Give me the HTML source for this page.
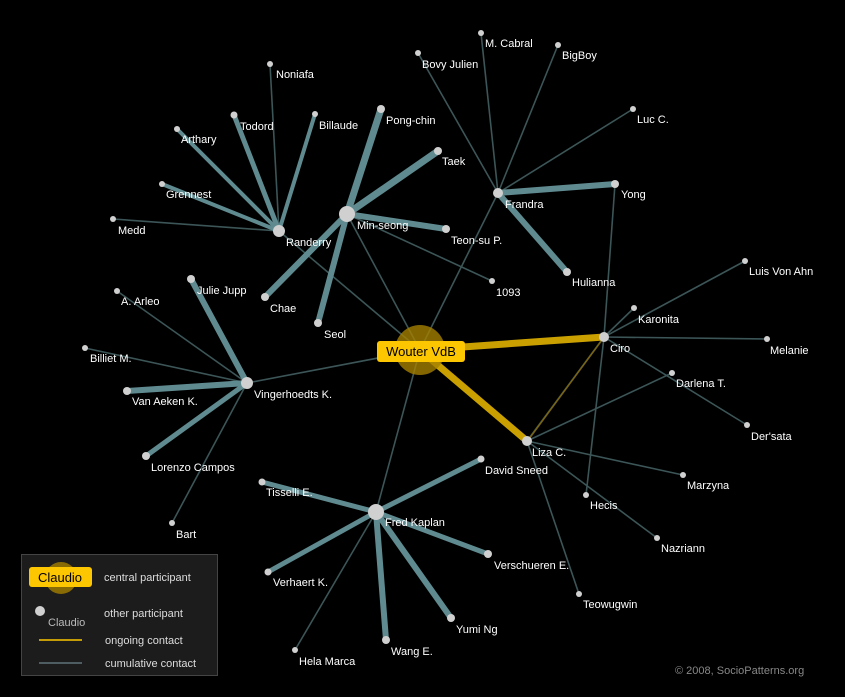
<!DOCTYPE html>
<html><head><meta charset="utf-8"><style>
html,body{margin:0;padding:0;background:#000;width:845px;height:697px;overflow:hidden}
svg{display:block}
text{font-family:"Liberation Sans",sans-serif;font-size:11px;fill:#fff}
.t{stroke:#3c5557;stroke-width:1.6;fill:none}
.k{stroke:#5f8b90;fill:none}
.n{fill:#d0d0d0}
</style></head><body>
<svg width="845" height="697" viewBox="0 0 845 697">
<rect width="845" height="697" fill="#000"/>
<!-- thin edges -->
<g class="t">
<line x1="420" y1="350" x2="279" y2="231"/>
<line x1="420" y1="350" x2="347" y2="214"/>
<line x1="420" y1="350" x2="498" y2="193"/>
<line x1="420" y1="350" x2="247" y2="383"/>
<line x1="420" y1="350" x2="376" y2="512"/>
<line x1="279" y1="231" x2="270" y2="64"/>
<line x1="279" y1="231" x2="113" y2="219"/>
<line x1="347" y1="214" x2="492" y2="281"/>
<line x1="498" y1="193" x2="481" y2="33"/>
<line x1="498" y1="193" x2="558" y2="45"/>
<line x1="498" y1="193" x2="418" y2="53"/>
<line x1="498" y1="193" x2="633" y2="109"/>
<line x1="604" y1="337" x2="615" y2="184"/>
<line x1="604" y1="337" x2="745" y2="261"/>
<line x1="604" y1="337" x2="634" y2="308"/>
<line x1="604" y1="337" x2="767" y2="339"/>
<line x1="604" y1="337" x2="747" y2="425"/>
<line x1="604" y1="337" x2="586" y2="495"/>
<line x1="604" y1="337" x2="527" y2="441"/>
<line x1="527" y1="441" x2="672" y2="373"/>
<line x1="527" y1="441" x2="683" y2="475"/>
<line x1="527" y1="441" x2="657" y2="538"/>
<line x1="527" y1="441" x2="579" y2="594"/>
<line x1="247" y1="383" x2="117" y2="291"/>
<line x1="247" y1="383" x2="85" y2="348"/>
<line x1="247" y1="383" x2="172" y2="523"/>
<line x1="376" y1="512" x2="295" y2="650"/>
</g>
<line x1="602" y1="340" x2="529" y2="439" stroke="#7a6410" stroke-width="1.5"/>
<!-- thick edges -->
<g class="k">
<line x1="279" y1="231" x2="234" y2="115" stroke-width="5"/>
<line x1="279" y1="231" x2="315" y2="114" stroke-width="4"/>
<line x1="279" y1="231" x2="177" y2="129" stroke-width="4"/>
<line x1="279" y1="231" x2="162" y2="184" stroke-width="4"/>
<line x1="347" y1="214" x2="381" y2="109" stroke-width="7"/>
<line x1="347" y1="214" x2="438" y2="151" stroke-width="7"/>
<line x1="347" y1="214" x2="446" y2="229" stroke-width="6"/>
<line x1="347" y1="214" x2="265" y2="297" stroke-width="6"/>
<line x1="347" y1="214" x2="318" y2="323" stroke-width="6"/>
<line x1="498" y1="193" x2="615" y2="184" stroke-width="6"/>
<line x1="498" y1="193" x2="567" y2="272" stroke-width="6"/>
<line x1="247" y1="383" x2="191" y2="279" stroke-width="6"/>
<line x1="247" y1="383" x2="127" y2="391" stroke-width="6"/>
<line x1="247" y1="383" x2="146" y2="456" stroke-width="5"/>
<line x1="376" y1="512" x2="262" y2="482" stroke-width="5"/>
<line x1="376" y1="512" x2="481" y2="459" stroke-width="5"/>
<line x1="376" y1="512" x2="488" y2="554" stroke-width="5"/>
<line x1="376" y1="512" x2="451" y2="618" stroke-width="6"/>
<line x1="376" y1="512" x2="386" y2="640" stroke-width="6"/>
<line x1="376" y1="512" x2="268" y2="572" stroke-width="5"/>
</g>
<!-- gold edges -->
<line x1="420" y1="350" x2="604" y2="337" stroke="#c9a000" stroke-width="7"/>
<line x1="420" y1="350" x2="527" y2="441" stroke="#c9a000" stroke-width="7"/>
<circle cx="420" cy="350" r="25" fill="#a47f00" fill-opacity="0.8"/>
<!-- nodes -->
<g class="n">
<circle cx="279" cy="231" r="6"/><circle cx="347" cy="214" r="8"/><circle cx="498" cy="193" r="5"/>
<circle cx="247" cy="383" r="6"/><circle cx="376" cy="512" r="8"/><circle cx="604" cy="337" r="5"/><circle cx="527" cy="441" r="5"/>
<circle cx="270" cy="64" r="3"/><circle cx="234" cy="115" r="3.5"/><circle cx="315" cy="114" r="3"/><circle cx="177" cy="129" r="3"/>
<circle cx="162" cy="184" r="3"/><circle cx="113" cy="219" r="3"/><circle cx="381" cy="109" r="4"/><circle cx="438" cy="151" r="4"/>
<circle cx="446" cy="229" r="4"/><circle cx="492" cy="281" r="3"/><circle cx="265" cy="297" r="4"/><circle cx="318" cy="323" r="4"/>
<circle cx="481" cy="33" r="3"/><circle cx="558" cy="45" r="3"/><circle cx="418" cy="53" r="3"/><circle cx="633" cy="109" r="3"/>
<circle cx="615" cy="184" r="4"/><circle cx="567" cy="272" r="4"/><circle cx="745" cy="261" r="3"/><circle cx="634" cy="308" r="3"/>
<circle cx="767" cy="339" r="3"/><circle cx="672" cy="373" r="3"/><circle cx="747" cy="425" r="3"/><circle cx="586" cy="495" r="3"/>
<circle cx="683" cy="475" r="3"/><circle cx="657" cy="538" r="3"/><circle cx="579" cy="594" r="3"/><circle cx="191" cy="279" r="4"/>
<circle cx="117" cy="291" r="3"/><circle cx="85" cy="348" r="3"/><circle cx="127" cy="391" r="4"/><circle cx="146" cy="456" r="4"/>
<circle cx="172" cy="523" r="3"/><circle cx="262" cy="482" r="3.5"/><circle cx="481" cy="459" r="3.5"/><circle cx="488" cy="554" r="4"/>
<circle cx="451" cy="618" r="4"/><circle cx="386" cy="640" r="4"/><circle cx="268" cy="572" r="3.5"/><circle cx="295" cy="650" r="3"/>
</g>
<!-- labels -->
<text x="286" y="246">Randerry</text><text x="357" y="229">Min-seong</text><text x="505" y="208">Frandra</text>
<text x="254" y="398">Vingerhoedts K.</text><text x="385" y="526">Fred Kaplan</text><text x="610" y="352">Ciro</text><text x="532" y="456">Liza C.</text>
<text x="276" y="78">Noniafa</text><text x="240" y="130">Todord</text><text x="319" y="129">Billaude</text><text x="181" y="143">Arthary</text>
<text x="166" y="198">Grennest</text><text x="118" y="234">Medd</text><text x="386" y="124">Pong-chin</text><text x="442" y="165">Taek</text>
<text x="451" y="244">Teon-su P.</text><text x="496" y="296">1093</text><text x="270" y="312">Chae</text><text x="324" y="338">Seol</text>
<text x="485" y="47">M. Cabral</text><text x="562" y="59">BigBoy</text><text x="422" y="68">Bovy Julien</text><text x="637" y="123">Luc C.</text>
<text x="621" y="198">Yong</text><text x="572" y="286">Hulianna</text><text x="749" y="275">Luis Von Ahn</text><text x="638" y="323">Karonita</text>
<text x="770" y="354">Melanie</text><text x="676" y="387">Darlena T.</text><text x="751" y="440">Der'sata</text><text x="590" y="509">Hecis</text>
<text x="687" y="489">Marzyna</text><text x="661" y="552">Nazriann</text><text x="583" y="608">Teowugwin</text><text x="197" y="294">Julie Jupp</text>
<text x="121" y="305">A. Arleo</text><text x="90" y="362">Billiet M.</text><text x="132" y="405">Van Aeken K.</text><text x="151" y="471">Lorenzo Campos</text>
<text x="176" y="538">Bart</text><text x="266" y="496">Tisselli E.</text><text x="485" y="474">David Sneed</text><text x="494" y="569">Verschueren E.</text>
<text x="456" y="633">Yumi Ng</text><text x="391" y="655">Wang E.</text><text x="273" y="586">Verhaert K.</text><text x="299" y="665">Hela Marca</text>
<!-- central label -->
<rect x="377" y="341" width="88" height="21" rx="3" fill="#fcc600"/>
<text x="421" y="356" text-anchor="middle" style="font-size:13px;fill:#000">Wouter VdB</text>
<!-- legend -->
<rect x="21.5" y="554.5" width="196" height="121" fill="#1c1c1c" stroke="#444"/>
<circle cx="61" cy="578" r="16" fill="#a47f00" fill-opacity="0.8"/>
<rect x="29" y="567" width="63" height="20" rx="3" fill="#fcc600"/>
<text x="60" y="582" text-anchor="middle" style="font-size:13px;fill:#000">Claudio</text>
<text x="104" y="581" style="fill:#ddd">central participant</text>
<circle cx="40" cy="611" r="5" fill="#d0d0d0"/>
<text x="48" y="626" style="fill:#bbb">Claudio</text>
<text x="104" y="617" style="fill:#ddd">other participant</text>
<line x1="39" y1="640" x2="82" y2="640" stroke="#fcc600" stroke-width="1.5"/>
<text x="105" y="644" style="fill:#ddd">ongoing contact</text>
<line x1="39" y1="663" x2="82" y2="663" stroke="#5f7378" stroke-width="1.5"/>
<text x="105" y="667" style="fill:#ddd">cumulative contact</text>
<text x="675" y="674" style="fill:#888">© 2008, SocioPatterns.org</text>
</svg>
</body></html>
